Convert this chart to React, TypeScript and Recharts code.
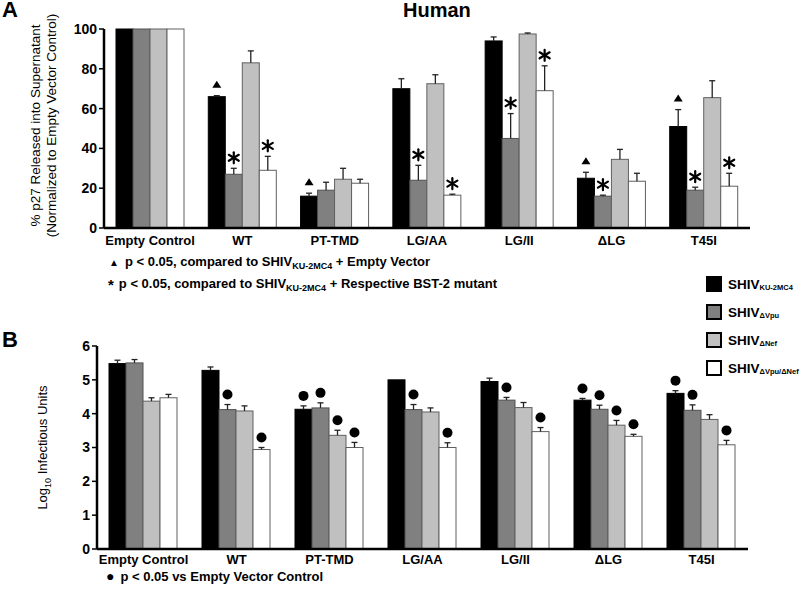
import React from "react";
import { BarChart, Bar, XAxis, YAxis } from "recharts";

const FONT = "Arial, 'Liberation Sans', Helvetica, sans-serif";

// ─── Data ───
const categories = ["Empty Control", "WT", "PT-TMD", "LG/AA", "LG/II", "\u0394LG", "T45I"];

// Panel A: % p27 released (normalized to empty vector)
const p27Ku = [100, 66, 16, 70, 94, 25, 51];
const p27KuErr = [0, 0.5, 1.5, 5, 2, 3, 8.5];
const p27KuMark = [0, 1, 1, 0, 0, 1, 1]; // triangle
const p27Vpu = [100, 27, 19, 24, 45, 16, 19];
const p27VpuErr = [0, 3, 4, 7.5, 12.5, 0.5, 1.5];
const p27VpuMark = [0, 1, 0, 1, 1, 1, 1]; // star
const p27Nef = [100, 83, 24.5, 72.5, 97.5, 34.5, 65.5];
const p27NefErr = [0, 6, 5.5, 4.5, 0.5, 5, 8.5];
const p27NefMark = [0, 0, 0, 0, 0, 0, 0];
const p27Dbl = [100, 29, 22.5, 16.5, 69, 23.5, 21];
const p27DblErr = [0, 7, 2, 0.5, 12.5, 4, 6.5];
const p27DblMark = [0, 1, 0, 1, 1, 0, 1]; // star

// Panel B: log10 infectious units
const infKu = [5.48, 5.28, 4.13, 5.0, 4.95, 4.4, 4.6];
const infKuErr = [0.1, 0.1, 0.1, 0, 0.1, 0.05, 0.08];
const infKuMark = [0, 0, 1, 0, 0, 1, 1];
const infVpu = [5.5, 4.12, 4.17, 4.12, 4.4, 4.13, 4.1];
const infVpuErr = [0.1, 0.15, 0.15, 0.15, 0.08, 0.12, 0.16];
const infVpuMark = [0, 1, 1, 1, 1, 1, 1];
const infNef = [4.37, 4.08, 3.36, 4.05, 4.18, 3.66, 3.83];
const infNefErr = [0.1, 0.15, 0.15, 0.12, 0.15, 0.14, 0.14];
const infNefMark = [0, 0, 1, 0, 0, 1, 0];
const infDbl = [4.47, 2.94, 3.0, 3.0, 3.47, 3.33, 3.08];
const infDblErr = [0.1, 0.06, 0.15, 0.14, 0.12, 0.06, 0.13];
const infDblMark = [0, 1, 1, 1, 1, 1, 1];

const COLORS = { ku: "#000000", vpu: "#808080", nef: "#c0c0c0", dbl: "#ffffff" };
const BORDER = { ku: "#000000", vpu: "#505050", nef: "#606060", dbl: "#606060" };

const rowsA = categories.map((name, i) => ({
  name,
  ku: p27Ku[i], kuErr: p27KuErr[i], kuMark: p27KuMark[i] ? "tri" : "",
  vpu: p27Vpu[i], vpuErr: p27VpuErr[i], vpuMark: p27VpuMark[i] ? "star" : "",
  nef: p27Nef[i], nefErr: p27NefErr[i], nefMark: p27NefMark[i] ? "star" : "",
  dbl: p27Dbl[i], dblErr: p27DblErr[i], dblMark: p27DblMark[i] ? "star" : "",
}));

const rowsB = categories.map((name, i) => ({
  name,
  ku: infKu[i], kuErr: infKuErr[i], kuMark: infKuMark[i] ? "dot" : "",
  vpu: infVpu[i], vpuErr: infVpuErr[i], vpuMark: infVpuMark[i] ? "dot" : "",
  nef: infNef[i], nefErr: infNefErr[i], nefMark: infNefMark[i] ? "dot" : "",
  dbl: infDbl[i], dblErr: infDblErr[i], dblMark: infDblMark[i] ? "dot" : "",
}));

// ─── Bar with plus-only error whisker and significance marker ───
function makeShape(key: string) {
  return (props: any) => {
    const { x, y, width, height, payload, fill, stroke } = props;
    const v = payload[key];
    const pxPerUnit = v ? height / v : 0;
    const errPx = (payload[key + "Err"] || 0) * pxPerUnit;
    const cx = x + width / 2;
    const top = y - errPx;
    const mark = payload[key + "Mark"];
    return (
      <g>
        <rect x={x} y={y} width={width} height={height} fill={fill} stroke={stroke} strokeWidth={1} />
        {errPx > 0.8 && (
          <g stroke="#222" strokeWidth={1.3}>
            <line x1={cx} y1={y} x2={cx} y2={top} />
            <line x1={cx - 3} y1={top} x2={cx + 3} y2={top} />
          </g>
        )}
        {mark === "tri" && (
          <polygon
            points={`${cx - 4.5},${top - 8} ${cx + 4.5},${top - 8} ${cx},${top - 15}`}
            fill="#000"
          />
        )}
        {mark === "star" && (
          <g stroke="#000" strokeWidth={2.2} strokeLinecap="round">
            <line x1={cx} y1={top - 16} x2={cx} y2={top - 5} />
            <line x1={cx - 5} y1={top - 13.5} x2={cx + 5} y2={top - 7.5} />
            <line x1={cx + 5} y1={top - 13.5} x2={cx - 5} y2={top - 7.5} />
          </g>
        )}
        {mark === "dot" && <circle cx={cx} cy={top - 10} r={5} fill="#000" />}
      </g>
    );
  };
}

const tickStyle = { fill: "#000", fontSize: 14, fontWeight: 700, fontFamily: FONT };
const xTickStyle = { fill: "#000", fontSize: 13, fontWeight: 700, fontFamily: FONT };

function bars() {
  return (["ku", "vpu", "nef", "dbl"] as const).map((k) => (
    <Bar
      key={k}
      dataKey={k}
      fill={COLORS[k]}
      stroke={BORDER[k]}
      shape={makeShape(k)}
      isAnimationActive={false}
    />
  ));
}

function Sub({ children, size = 9 }: { children: React.ReactNode; size?: number }) {
  return <span style={{ fontSize: size, position: "relative", top: 3 }}>{children}</span>;
}

const legendItems = [
  { color: COLORS.ku, sub: "KU-2MC4" },
  { color: COLORS.vpu, sub: "\u0394Vpu" },
  { color: COLORS.nef, sub: "\u0394Nef" },
  { color: COLORS.dbl, sub: "\u0394Vpu/\u0394Nef" },
];

export default function App() {
  const abs = (left: number, top: number, extra: React.CSSProperties = {}): React.CSSProperties => ({
    position: "absolute",
    left,
    top,
    fontFamily: FONT,
    fontWeight: 700,
    color: "#000",
    whiteSpace: "nowrap",
    ...extra,
  });

  return (
    <div style={{ position: "absolute", left: 0, top: 0, width: 800, height: 590, background: "#fff", fontFamily: FONT, overflow: "hidden" }}>
      <div style={abs(2, 0, { fontSize: 22, lineHeight: "20px" })}>A</div>
      <div style={abs(403, -1, { fontSize: 20, lineHeight: "22px" })}>Human</div>

      <div style={{ position: "absolute", left: 0, top: 0 }}>
        <BarChart
          width={800}
          height={250}
          data={rowsA}
          margin={{ top: 29, right: 50, left: 0, bottom: 0 }}
          barCategoryGap={12}
          barGap={0}
        >
          <XAxis
            dataKey="name"
            height={22}
            interval={0}
            tickLine={false}
            axisLine={{ stroke: "#000", strokeWidth: 2.5 }}
            tick={xTickStyle}
          />
          <YAxis
            width={104}
            domain={[0, 100]}
            ticks={[0, 20, 40, 60, 80, 100]}
            tickSize={5}
            axisLine={{ stroke: "#000", strokeWidth: 2.5 }}
            tickLine={{ stroke: "#000", strokeWidth: 1.5 }}
            tick={tickStyle}
            label={(p: any) => {
              const cy = p.viewBox.y + p.viewBox.height / 2 - 3;
              return (
                <g fontFamily={FONT} fontSize={13.5} fill="#000">
                  <text x={40} y={cy} textAnchor="middle" transform={`rotate(-90 40 ${cy})`}>
                    % p27 Released into Supernatant
                  </text>
                  <text x={56} y={cy} textAnchor="middle" transform={`rotate(-90 56 ${cy})`}>
                    (Normalized to Empty Vector Control)
                  </text>
                </g>
              );
            }}
          />
          {bars()}
        </BarChart>
      </div>

      <div style={abs(109, 254, { fontSize: 13 })}>
        <span style={{ fontSize: 10, marginRight: 6 }}>{"\u25B2"}</span>p &lt; 0.05, compared to SHIV<Sub>KU-2MC4</Sub> + Empty Vector
      </div>
      <div style={abs(108, 274, { fontSize: 13 })}>
        <span style={{ fontSize: 15, marginRight: 5, position: "relative", top: 2 }}>*</span>p &lt; 0.05, compared to SHIV<Sub>KU-2MC4</Sub> + Respective BST-2 mutant
      </div>

      {legendItems.map((it, i) => (
        <div key={i} style={abs(706, 276 + i * 28, { fontSize: 13.5, display: "flex", alignItems: "center" })}>
          <span
            style={{
              display: "inline-block",
              width: 12,
              height: 12,
              background: it.color,
              border: "2px solid #000",
              marginRight: 6,
            }}
          />
          SHIV<Sub size={7.5}>{it.sub}</Sub>
        </div>
      ))}

      <div style={abs(2, 328, { fontSize: 22, lineHeight: "24px" })}>B</div>

      <div style={{ position: "absolute", left: 0, top: 320 }}>
        <BarChart
          width={800}
          height={255}
          data={rowsB}
          margin={{ top: 26, right: 52, left: 0, bottom: 0 }}
          barCategoryGap={12}
          barGap={0}
        >
          <XAxis
            dataKey="name"
            height={26}
            interval={0}
            tickLine={false}
            tickMargin={0}
            axisLine={{ stroke: "#000", strokeWidth: 2.5 }}
            tick={xTickStyle}
          />
          <YAxis
            width={97}
            domain={[0, 6]}
            ticks={[0, 1, 2, 3, 4, 5, 6]}
            tickSize={5}
            axisLine={{ stroke: "#000", strokeWidth: 2.5 }}
            tickLine={{ stroke: "#000", strokeWidth: 1.5 }}
            tick={tickStyle}
            label={(p: any) => {
              const cy = p.viewBox.y + p.viewBox.height / 2;
              return (
                <text
                  x={47}
                  y={cy}
                  textAnchor="middle"
                  fontFamily={FONT}
                  fontSize={13}
                  fill="#000"
                  transform={`rotate(-90 47 ${cy})`}
                >
                  Log
                  <tspan fontSize={9} dy={4}>10</tspan>
                  <tspan dy={-4}> Infectious Units</tspan>
                </text>
              );
            }}
          />
          {bars()}
        </BarChart>
      </div>

      <div style={abs(106, 569, { fontSize: 13, lineHeight: "15px" })}>
        <span style={{ fontSize: 14, marginRight: 6 }}>{"\u25CF"}</span>p &lt; 0.05 vs Empty Vector Control
      </div>
    </div>
  );
}
